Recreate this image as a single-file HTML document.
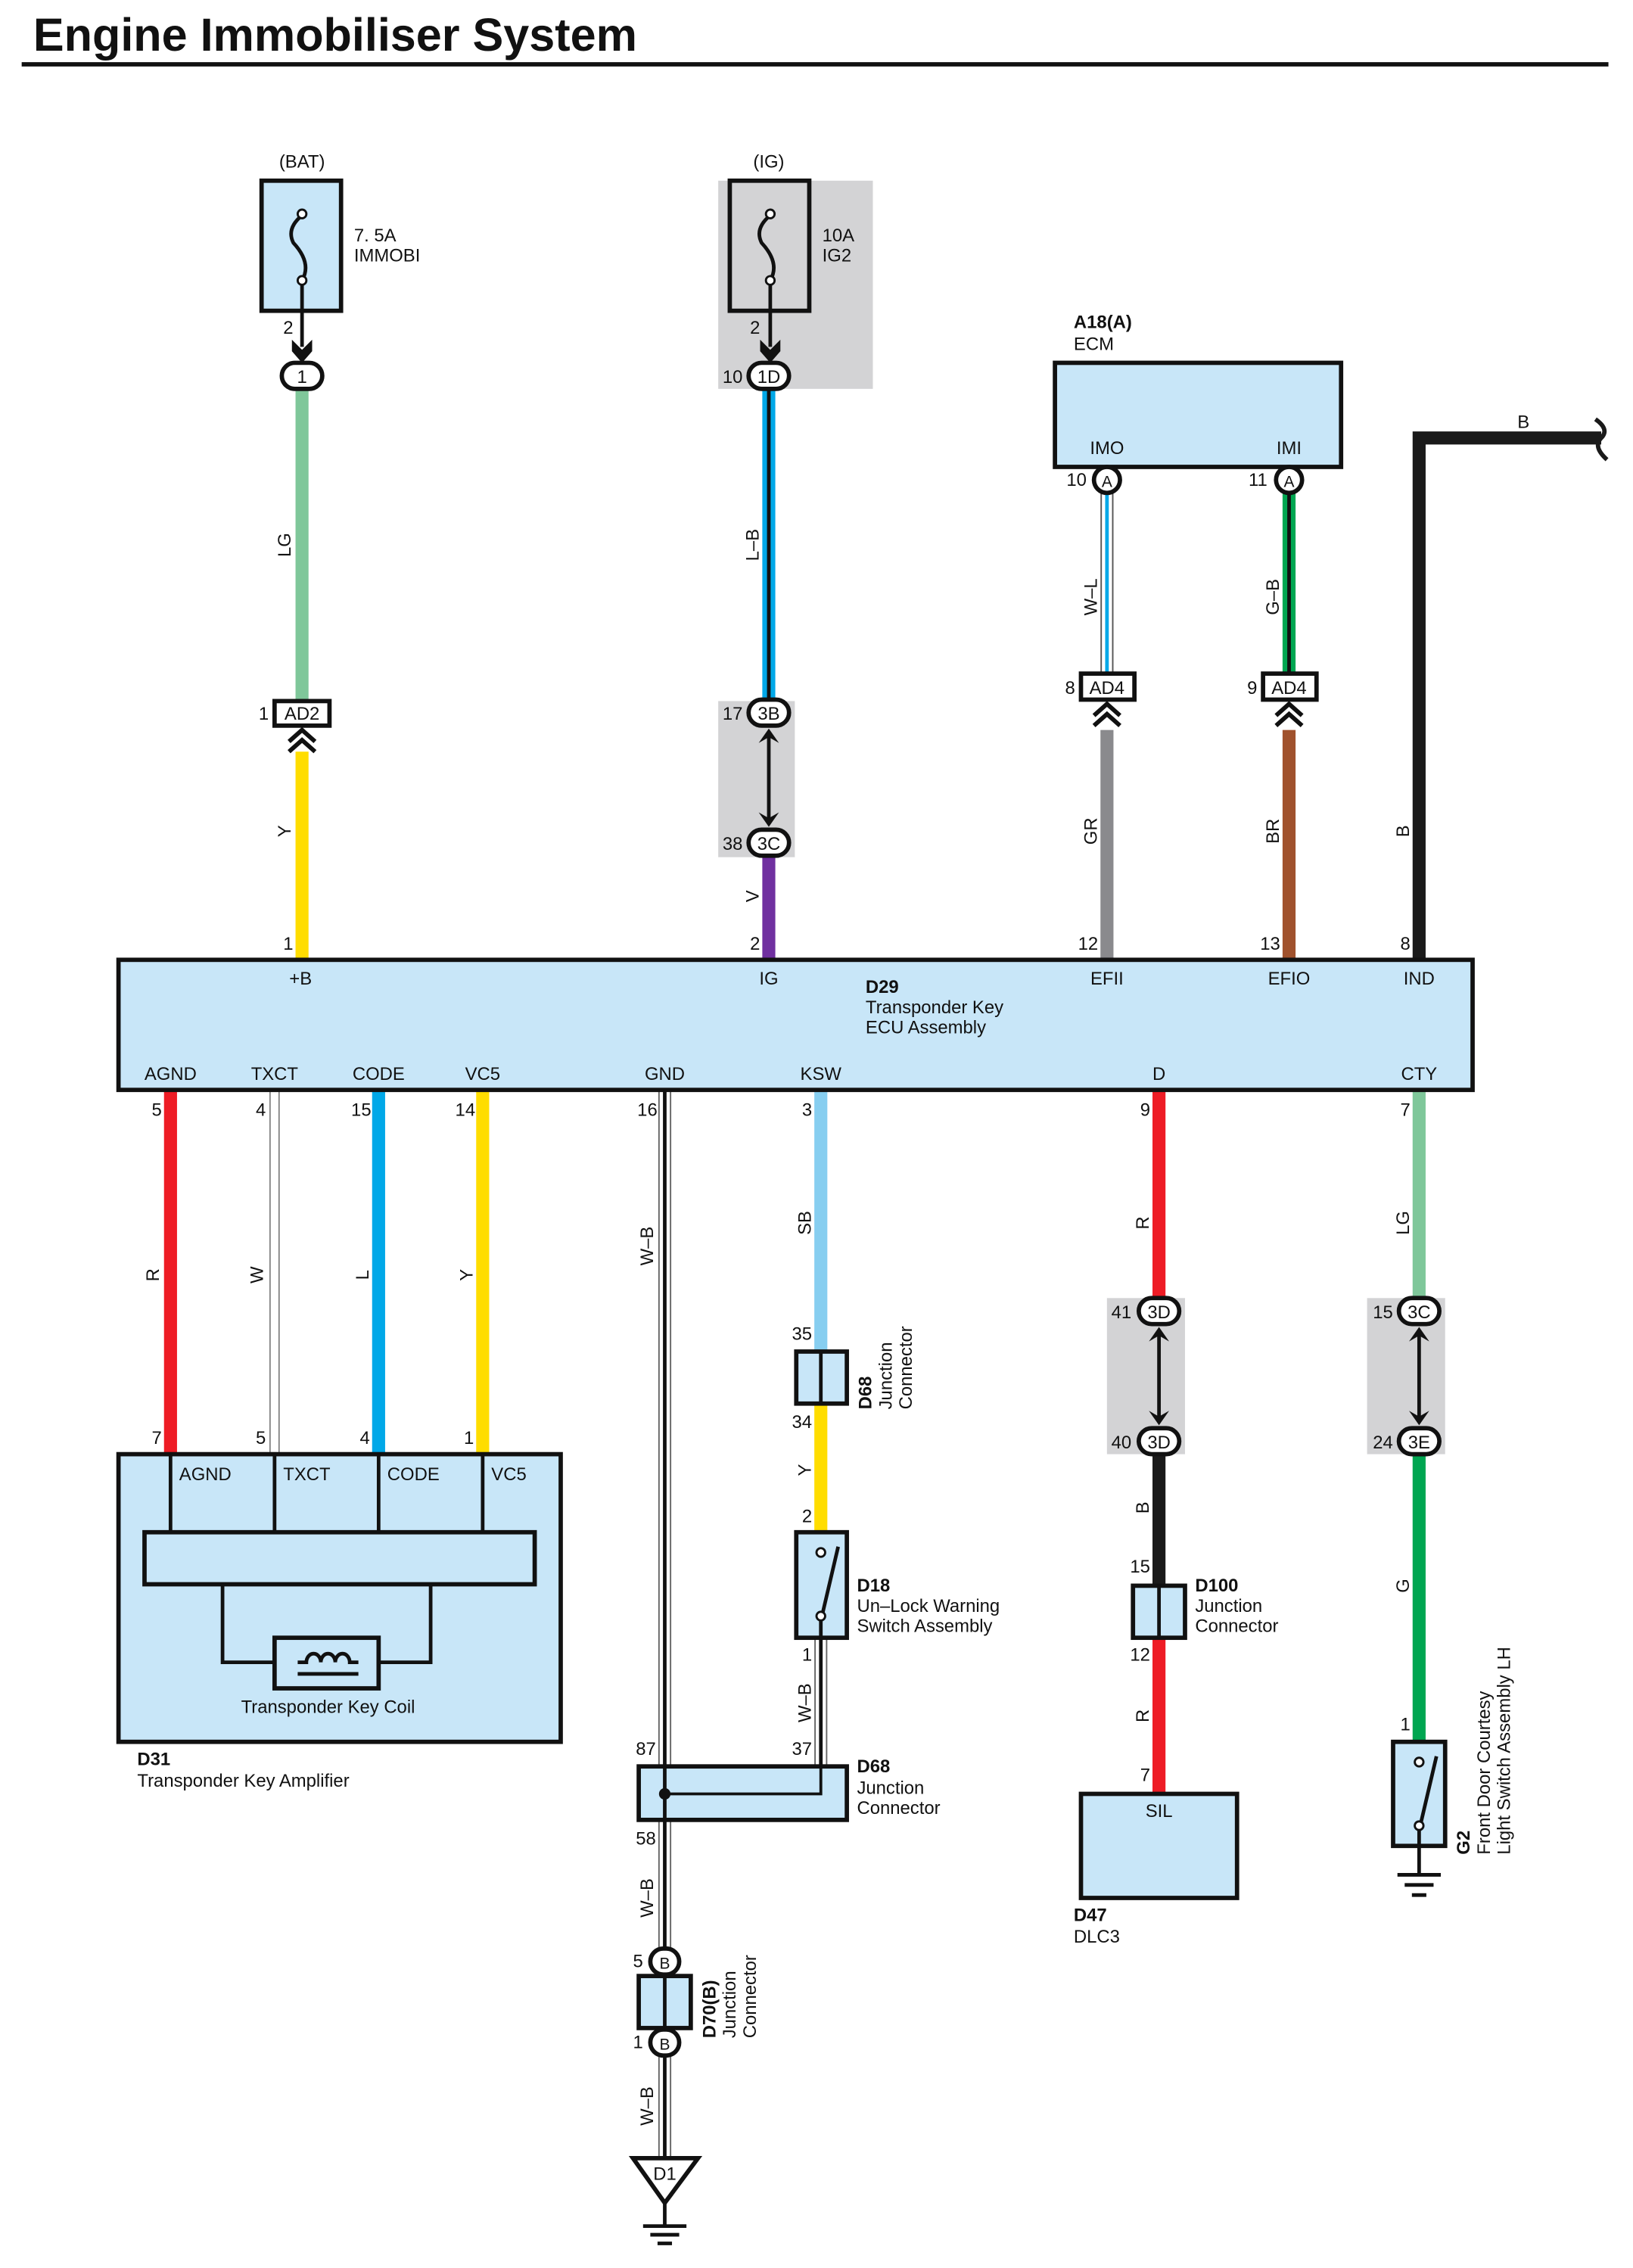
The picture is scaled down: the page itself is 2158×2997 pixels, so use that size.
<!DOCTYPE html>
<html><head><meta charset="utf-8"><style>
html,body{margin:0;padding:0;background:#fff}
svg{display:block}
text{font-family:"Liberation Sans",Arial,sans-serif;font-size:12.5px;fill:#111}
.b{font-weight:bold}
</style></head><body>
<svg width="2158" height="2997" viewBox="0 0 1130 1569" preserveAspectRatio="none" xmlns="http://www.w3.org/2000/svg">
<rect width="1130" height="1569" fill="#fff"/>
<text x="23" y="35" style="font-size:32px;font-weight:bold">Engine Immobiliser System</text>
<rect x="15" y="43" width="1098" height="3" fill="#111"/>

<!-- gray shaded areas -->
<rect x="497" y="125" width="107" height="144" fill="#d3d3d5"/>
<rect x="497" y="485" width="53" height="108" fill="#d3d3d5"/>
<rect x="766" y="898" width="54" height="108" fill="#d3d3d5"/>
<rect x="946" y="898" width="54" height="108" fill="#d3d3d5"/>

<!-- wires -->
<g stroke-linecap="butt" fill="none">
<line x1="209" y1="269" x2="209" y2="485" stroke="#7fc79a" stroke-width="9"/>
<line x1="209" y1="520" x2="209" y2="664" stroke="#ffdd00" stroke-width="9"/>
<line x1="532" y1="269" x2="532" y2="485" stroke="#00a8e8" stroke-width="9"/>
<line x1="532" y1="269" x2="532" y2="485" stroke="#111" stroke-width="2.5"/>
<line x1="532" y1="592" x2="532" y2="664" stroke="#7030a0" stroke-width="9"/>
<line x1="766" y1="341" x2="766" y2="466" stroke="#555" stroke-width="9"/>
<line x1="766" y1="341" x2="766" y2="466" stroke="#fff" stroke-width="7"/>
<line x1="766" y1="341" x2="766" y2="466" stroke="#00a8e8" stroke-width="2.5"/>
<line x1="892" y1="341" x2="892" y2="466" stroke="#00a651" stroke-width="9"/>
<line x1="892" y1="341" x2="892" y2="466" stroke="#111" stroke-width="2.5"/>
<line x1="766" y1="505" x2="766" y2="664" stroke="#8a8a8d" stroke-width="9"/>
<line x1="892" y1="505" x2="892" y2="664" stroke="#a0522d" stroke-width="9"/>
<polyline points="982,664 982,303 1108,303" stroke="#1a1a1a" stroke-width="9"/>
<path d="M1104 290 Q1114 297 1108 303 Q1102 309 1112 318" stroke="#1a1a1a" stroke-width="3"/>
<line x1="118" y1="754" x2="118" y2="1006" stroke="#ee1c25" stroke-width="9"/>
<line x1="190" y1="754" x2="190" y2="1006" stroke="#666" stroke-width="7"/>
<line x1="190" y1="754" x2="190" y2="1006" stroke="#fff" stroke-width="5.5"/>
<line x1="262" y1="754" x2="262" y2="1006" stroke="#00a8e8" stroke-width="9"/>
<line x1="334" y1="754" x2="334" y2="1006" stroke="#ffdd00" stroke-width="9"/>
<line x1="460" y1="754" x2="460" y2="1495" stroke="#666" stroke-width="9"/>
<line x1="460" y1="754" x2="460" y2="1495" stroke="#fff" stroke-width="7"/>
<line x1="460" y1="754" x2="460" y2="1495" stroke="#111" stroke-width="2.5"/>
<line x1="568" y1="754" x2="568" y2="935" stroke="#87cef0" stroke-width="9"/>
<line x1="568" y1="971" x2="568" y2="1060" stroke="#ffdd00" stroke-width="9"/>
<line x1="568" y1="1133" x2="568" y2="1222" stroke="#666" stroke-width="9"/>
<line x1="568" y1="1133" x2="568" y2="1222" stroke="#fff" stroke-width="7"/>
<line x1="568" y1="1133" x2="568" y2="1222" stroke="#111" stroke-width="2.5"/>
<line x1="802" y1="754" x2="802" y2="900" stroke="#ee1c25" stroke-width="9"/>
<line x1="802" y1="1006" x2="802" y2="1097" stroke="#1a1a1a" stroke-width="9"/>
<line x1="802" y1="1133" x2="802" y2="1241" stroke="#ee1c25" stroke-width="9"/>
<line x1="982" y1="754" x2="982" y2="900" stroke="#7fc79a" stroke-width="9"/>
<line x1="982" y1="1006" x2="982" y2="1205" stroke="#00a651" stroke-width="9"/>
</g>

<!-- fuses -->
<g stroke="#111" stroke-width="3">
<rect x="181" y="125" width="55" height="90" fill="#c8e6f8"/>
<rect x="505" y="125" width="55" height="90" fill="#d3d3d5"/>
</g>
<g fill="none" stroke="#111" stroke-width="2.5">
<path d="M209 149 Q198 158 203 168 Q216 182 209 194"/>
<path d="M533 149 Q522 158 527 168 Q540 182 533 194"/>
<line x1="209" y1="194" x2="209" y2="240"/>
<line x1="533" y1="194" x2="533" y2="240"/>
</g>
<g fill="#fff" stroke="#111" stroke-width="1.5">
<circle cx="209" cy="148" r="3"/><circle cx="209" cy="194" r="3"/>
<circle cx="533" cy="148" r="3"/><circle cx="533" cy="194" r="3"/>
</g>
<polygon points="202,235 209,242 216,235 216,243 209,251 202,243" fill="#111"/>
<polygon points="526,235 533,242 540,235 540,243 533,251 526,243" fill="#111"/>
<text x="209" y="116" text-anchor="middle">(BAT)</text>
<text x="532" y="116" text-anchor="middle">(IG)</text>
<text x="245" y="167">7. 5A</text><text x="245" y="181">IMMOBI</text>
<text x="569" y="167">10A</text><text x="569" y="181">IG2</text>
<text x="196" y="231">2</text><text x="519" y="231">2</text>

<g fill="#fff" stroke="#111" stroke-width="3">
<rect x="195" y="251" width="28" height="18" rx="9"/>
<rect x="518" y="251" width="28" height="18" rx="9"/>
<rect x="518" y="484" width="28" height="18" rx="9"/>
<rect x="518" y="574" width="28" height="18" rx="9"/>
<rect x="788" y="898" width="28" height="18" rx="9"/>
<rect x="788" y="988" width="28" height="18" rx="9"/>
<rect x="968" y="898" width="28" height="18" rx="9"/>
<rect x="968" y="988" width="28" height="18" rx="9"/>
</g>
<g text-anchor="middle">
<text x="209" y="265">1</text><text x="532" y="265">1D</text>
<text x="532" y="498">3B</text><text x="532" y="588">3C</text>
<text x="802" y="912">3D</text><text x="802" y="1002">3D</text>
<text x="982" y="912">3C</text><text x="982" y="1002">3E</text>
</g>
<text x="500" y="265">10</text>
<text x="500" y="498">17</text><text x="500" y="588">38</text>
<text x="769" y="912">41</text><text x="769" y="1002">40</text>
<text x="950" y="912">15</text><text x="950" y="1002">24</text>

<g stroke="#111" stroke-width="2.5">
<line x1="532" y1="508" x2="532" y2="568"/>
<line x1="802" y1="922" x2="802" y2="982"/>
<line x1="982" y1="922" x2="982" y2="982"/>
</g>
<g fill="#111">
<polygon points="525,514 532,504 539,514 532,510"/><polygon points="525,562 532,572 539,562 532,566"/>
<polygon points="795,928 802,918 809,928 802,924"/><polygon points="795,976 802,986 809,976 802,980"/>
<polygon points="975,928 982,918 989,928 982,924"/><polygon points="975,976 982,986 989,976 982,980"/>
</g>

<g fill="#fff" stroke="#111" stroke-width="3">
<rect x="190" y="485" width="38" height="17"/>
<rect x="748" y="466" width="37" height="18"/>
<rect x="874" y="466" width="37" height="18"/>
</g>
<text x="209" y="498" text-anchor="middle">AD2</text>
<text x="766" y="480" text-anchor="middle">AD4</text>
<text x="892" y="480" text-anchor="middle">AD4</text>
<text x="179" y="498">1</text><text x="737" y="480">8</text><text x="863" y="480">9</text>
<g fill="none" stroke="#111" stroke-width="3">
<polyline points="200,513 209,505 218,513"/><polyline points="200,520 209,512 218,520"/>
<polyline points="757,495 766,487 775,495"/><polyline points="757,502 766,494 775,502"/>
<polyline points="883,495 892,487 901,495"/><polyline points="883,502 892,494 901,502"/>
</g>

<rect x="730" y="251" width="198" height="72" fill="#c8e6f8" stroke="#111" stroke-width="3"/>
<text x="743" y="227" class="b">A18(A)</text><text x="743" y="242">ECM</text>
<text x="766" y="314" text-anchor="middle">IMO</text><text x="892" y="314" text-anchor="middle">IMI</text>
<g fill="#fff" stroke="#111" stroke-width="3"><circle cx="766" cy="332" r="9"/><circle cx="892" cy="332" r="9"/></g>
<text x="766" y="337" text-anchor="middle" style="font-size:11px">A</text>
<text x="892" y="337" text-anchor="middle" style="font-size:11px">A</text>
<text x="738" y="336">10</text><text x="864" y="336">11</text>
<text x="1050" y="296">B</text>

<rect x="82" y="664" width="937" height="90" fill="#c8e6f8" stroke="#111" stroke-width="3"/>
<g text-anchor="middle">
<text x="208" y="681">+B</text><text x="532" y="681">IG</text><text x="766" y="681">EFII</text>
<text x="892" y="681">EFIO</text><text x="982" y="681">IND</text>
<text x="118" y="747">AGND</text><text x="190" y="747">TXCT</text><text x="262" y="747">CODE</text>
<text x="334" y="747">VC5</text><text x="460" y="747">GND</text><text x="568" y="747">KSW</text>
<text x="802" y="747">D</text><text x="982" y="747">CTY</text>
</g>
<text x="599" y="687" class="b">D29</text><text x="599" y="701">Transponder Key</text><text x="599" y="715">ECU Assembly</text>
<text x="196" y="657">1</text><text x="519" y="657">2</text><text x="746" y="657">12</text><text x="872" y="657">13</text><text x="969" y="657">8</text>
<text x="105" y="772">5</text><text x="177" y="772">4</text><text x="243" y="772">15</text><text x="315" y="772">14</text>
<text x="441" y="772">16</text><text x="555" y="772">3</text><text x="789" y="772">9</text><text x="969" y="772">7</text>

<text x="105" y="999">7</text><text x="177" y="999">5</text><text x="249" y="999">4</text><text x="321" y="999">1</text>
<rect x="82" y="1006" width="306" height="199" fill="#c8e6f8" stroke="#111" stroke-width="3"/>
<g stroke="#111" stroke-width="2.5" fill="none">
<line x1="118" y1="1006" x2="118" y2="1060"/><line x1="190" y1="1006" x2="190" y2="1060"/>
<line x1="262" y1="1006" x2="262" y2="1060"/><line x1="334" y1="1006" x2="334" y2="1060"/>
<rect x="100" y="1060" width="270" height="36" stroke-width="3"/>
<polyline points="154,1096 154,1150 190,1150"/><polyline points="298,1096 298,1150 262,1150"/>
<rect x="190" y="1133" width="72" height="35" stroke-width="3"/>
<path d="M206 1150 L212 1150 A5 6 0 1 1 222 1150 A5 6 0 1 1 232 1150 A5 6 0 1 1 242 1150 L248 1150"/>
<line x1="206" y1="1158" x2="248" y2="1158"/>
</g>
<text x="124" y="1024">AGND</text><text x="196" y="1024">TXCT</text><text x="268" y="1024">CODE</text><text x="340" y="1024">VC5</text>
<text x="227" y="1185" text-anchor="middle">Transponder Key Coil</text>
<text x="95" y="1221" class="b">D31</text><text x="95" y="1236">Transponder Key Amplifier</text>

<rect x="551" y="935" width="35" height="36" fill="#c8e6f8" stroke="#111" stroke-width="3"/>
<line x1="568" y1="935" x2="568" y2="971" stroke="#111" stroke-width="2.5"/>
<text x="548" y="927">35</text><text x="548" y="988">34</text>
<g transform="translate(603,975) rotate(-90)"><text class="b" x="0" y="0">D68</text><text x="0" y="14">Junction</text><text x="0" y="28">Connector</text></g>

<rect x="551" y="1060" width="35" height="73" fill="#c8e6f8" stroke="#111" stroke-width="3"/>
<line x1="569" y1="1117" x2="580" y2="1070" stroke="#111" stroke-width="2.5"/>
<g fill="#fff" stroke="#111" stroke-width="1.5"><circle cx="568" cy="1074" r="3"/><circle cx="568" cy="1118" r="3"/></g>
<line x1="568" y1="1121" x2="568" y2="1133" stroke="#111" stroke-width="2.5"/>
<text x="555" y="1053">2</text><text x="555" y="1149">1</text>
<text x="593" y="1101" class="b">D18</text><text x="593" y="1115">Un–Lock Warning</text><text x="593" y="1129">Switch Assembly</text>

<rect x="442" y="1222" width="144" height="37" fill="#c8e6f8" stroke="#111" stroke-width="3"/>
<line x1="460" y1="1222" x2="460" y2="1259" stroke="#111" stroke-width="2.5"/>
<polyline points="568,1222 568,1241 460,1241" fill="none" stroke="#111" stroke-width="2"/>
<circle cx="460" cy="1241" r="4" fill="#111"/>
<text x="440" y="1214">87</text><text x="548" y="1214">37</text><text x="440" y="1276">58</text>
<text x="593" y="1226" class="b">D68</text><text x="593" y="1241">Junction</text><text x="593" y="1255">Connector</text>

<rect x="442" y="1367" width="36" height="36" fill="#c8e6f8" stroke="#111" stroke-width="3"/>
<line x1="460" y1="1367" x2="460" y2="1403" stroke="#111" stroke-width="2.5"/>
<g fill="#fff" stroke="#111" stroke-width="3"><rect x="450" y="1348" width="20" height="18" rx="9"/><rect x="450" y="1404" width="20" height="18" rx="9"/></g>
<text x="460" y="1362" text-anchor="middle" style="font-size:11px">B</text>
<text x="460" y="1418" text-anchor="middle" style="font-size:11px">B</text>
<text x="438" y="1361">5</text><text x="438" y="1417">1</text>
<g transform="translate(495,1410) rotate(-90)"><text class="b" x="0" y="0">D70(B)</text><text x="0" y="14">Junction</text><text x="0" y="28">Connector</text></g>
<polygon points="438,1493 483,1493 460,1524" fill="#fff" stroke="#111" stroke-width="3"/>
<text x="460" y="1508" text-anchor="middle">D1</text>
<g stroke="#111" stroke-width="2.5"><line x1="460" y1="1524" x2="460" y2="1540"/><line x1="445" y1="1540" x2="475" y2="1540"/><line x1="450" y1="1546" x2="470" y2="1546"/><line x1="455" y1="1552" x2="465" y2="1552"/></g>

<rect x="784" y="1097" width="36" height="36" fill="#c8e6f8" stroke="#111" stroke-width="3"/>
<line x1="802" y1="1097" x2="802" y2="1133" stroke="#111" stroke-width="2.5"/>
<text x="782" y="1088">15</text><text x="782" y="1149">12</text>
<text x="827" y="1101" class="b">D100</text><text x="827" y="1115">Junction</text><text x="827" y="1129">Connector</text>
<rect x="748" y="1241" width="108" height="72" fill="#c8e6f8" stroke="#111" stroke-width="3"/>
<text x="802" y="1257" text-anchor="middle">SIL</text>
<text x="789" y="1232">7</text>
<text x="743" y="1329" class="b">D47</text><text x="743" y="1344">DLC3</text>

<rect x="964" y="1205" width="36" height="72" fill="#c8e6f8" stroke="#111" stroke-width="3"/>
<line x1="983" y1="1262" x2="994" y2="1215" stroke="#111" stroke-width="2.5"/>
<g fill="#fff" stroke="#111" stroke-width="1.5"><circle cx="982" cy="1219" r="3"/><circle cx="982" cy="1263" r="3"/></g>
<g stroke="#111" stroke-width="2.5"><line x1="982" y1="1266" x2="982" y2="1297"/><line x1="967" y1="1297" x2="997" y2="1297"/><line x1="972" y1="1304" x2="992" y2="1304"/><line x1="977" y1="1311" x2="987" y2="1311"/></g>
<text x="969" y="1197">1</text>
<g transform="translate(1017,1283) rotate(-90)"><text class="b" x="0" y="0">G2</text><text x="0" y="14">Front Door Courtesy</text><text x="0" y="28">Light Switch Assembly LH</text></g>

<g text-anchor="middle">
<text transform="translate(201,377) rotate(-90)">LG</text>
<text transform="translate(525,377) rotate(-90)">L–B</text>
<text transform="translate(759,413) rotate(-90)">W–L</text>
<text transform="translate(885,413) rotate(-90)">G–B</text>
<text transform="translate(201,575) rotate(-90)">Y</text>
<text transform="translate(525,620) rotate(-90)">V</text>
<text transform="translate(759,575) rotate(-90)">GR</text>
<text transform="translate(885,575) rotate(-90)">BR</text>
<text transform="translate(975,575) rotate(-90)">B</text>
<text transform="translate(110,882) rotate(-90)">R</text>
<text transform="translate(182,882) rotate(-90)">W</text>
<text transform="translate(255,882) rotate(-90)">L</text>
<text transform="translate(327,882) rotate(-90)">Y</text>
<text transform="translate(452,862) rotate(-90)">W–B</text>
<text transform="translate(561,846) rotate(-90)">SB</text>
<text transform="translate(561,1017) rotate(-90)">Y</text>
<text transform="translate(561,1178) rotate(-90)">W–B</text>
<text transform="translate(795,846) rotate(-90)">R</text>
<text transform="translate(795,1043) rotate(-90)">B</text>
<text transform="translate(795,1187) rotate(-90)">R</text>
<text transform="translate(975,846) rotate(-90)">LG</text>
<text transform="translate(975,1097) rotate(-90)">G</text>
<text transform="translate(452,1313) rotate(-90)">W–B</text>
<text transform="translate(452,1457) rotate(-90)">W–B</text>
</g>
</svg>
</body></html>
